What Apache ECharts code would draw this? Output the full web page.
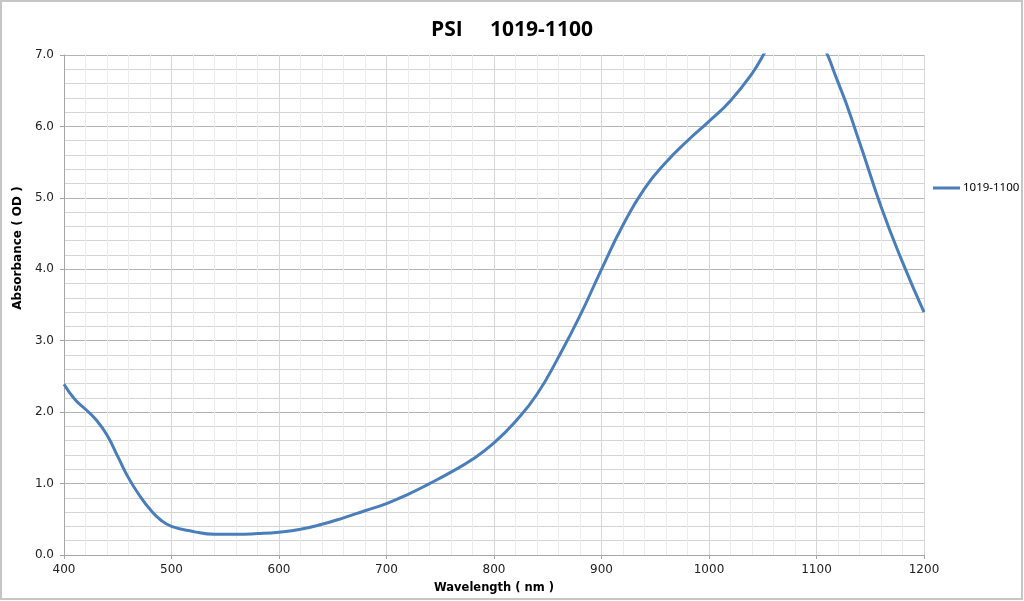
<!DOCTYPE html>
<html><head><meta charset="utf-8">
<script src="https://cdn.jsdelivr.net/npm/echarts@6/dist/echarts.min.js"></script>
<style>html,body{margin:0;padding:0;background:#fff}#c{width:1024px;height:601px}</style>
</head><body><div id="c"></div>
<script>
const seriesName = '1019-1100';
const wavelengths = [400,410,420,430,440,450,460,470,480,490,500,520,540,560,580,600,620,640,660,680,700,720,740,760,780,800,820,840,860,880,900,920,940,960,980,1000,1020,1040,1060,1080,1100,1120,1140,1160,1180,1200];
const absorbance = [2.39,2.18,2.04,1.89,1.68,1.38,1.08,0.84,0.64,0.49,0.40,0.33,0.29,0.29,0.30,0.32,0.36,0.43,0.52,0.62,0.72,0.85,1.00,1.16,1.34,1.57,1.87,2.25,2.77,3.35,4.00,4.62,5.13,5.50,5.80,6.07,6.36,6.74,7.20,7.45,7.25,6.62,5.78,4.88,4.10,3.40];

const chart = echarts.init(document.getElementById('c'));
const labelFont = 'DejaVu Sans';
chart.setOption({
  animation: false,
  backgroundColor: '#fff',
  title: {
    text: 'PSI     1019-1100',
    left: 'center', top: 15,
    textStyle: {fontFamily: 'Open Sans', fontWeight: 'bold', fontSize: 21, color: '#000'}
  },
  legend: {
    left: 933, top: 182, orient: 'vertical', padding: 0,
    itemWidth: 27, itemHeight: 3, itemGap: 4,
    icon: 'rect',
    textStyle: {fontFamily: 'Noto Sans', fontSize: 11.5, color: '#000', padding: [0, 0, 0, -2]},
    data: [seriesName]
  },
  grid: {left: 64, right: 100, top: 55, bottom: 46},
  graphic: [
    {type: 'rect', shape: {x: 1, y: 1, width: 1021, height: 598}, style: {fill: 'none', stroke: '#c6c6c6', lineWidth: 2}, silent: true},
    {type: 'text', x: 18, y: 248, rotation: Math.PI / 2,
     style: {text: 'Absorbance ( OD )', fontFamily: labelFont, fontWeight: 'bold', fontSize: 12, fill: '#000', align: 'center', verticalAlign: 'middle'}}
  ],
  xAxis: {
    type: 'value', min: 400, max: 1200, interval: 100,
    name: 'Wavelength ( nm )', nameLocation: 'middle', nameGap: 27,
    nameTextStyle: {fontFamily: labelFont, fontWeight: 'bold', fontSize: 11.5, color: '#000'},
    axisLine: {show: true, lineStyle: {color: '#a6a6a6', width: 1}},
    axisTick: {show: true, length: 4, lineStyle: {color: '#a6a6a6'}},
    axisLabel: {fontFamily: labelFont, fontSize: 12, color: '#222', margin: 9, formatter: v => String(v)},
    splitLine: {show: true, lineStyle: {color: '#d6d6d6', width: 1}},
    minorTick: {show: false, splitNumber: 5},
    minorSplitLine: {show: true, lineStyle: {color: '#ececec', width: 1}}
  },
  yAxis: {
    type: 'value', min: 0, max: 7, interval: 1,
    axisLine: {show: true, lineStyle: {color: '#a6a6a6', width: 1}},
    axisTick: {show: true, length: 4, lineStyle: {color: '#a6a6a6'}},
    axisLabel: {fontFamily: labelFont, fontSize: 12, color: '#222', margin: 10, formatter: v => v.toFixed(1)},
    splitLine: {show: true, lineStyle: {color: '#b4b4b4', width: 1}},
    minorTick: {show: false, splitNumber: 5},
    minorSplitLine: {show: true, lineStyle: {color: '#d4d4d4', width: 1}}
  },
  series: [{
    name: seriesName, type: 'line', smooth: 0.5, showSymbol: false, clip: true,
    lineStyle: {color: '#4a7ebb', width: 3},
    itemStyle: {color: '#4a7ebb'},
    data: wavelengths.map((w, i) => [w, absorbance[i]])
  }]
});
</script></body></html>
